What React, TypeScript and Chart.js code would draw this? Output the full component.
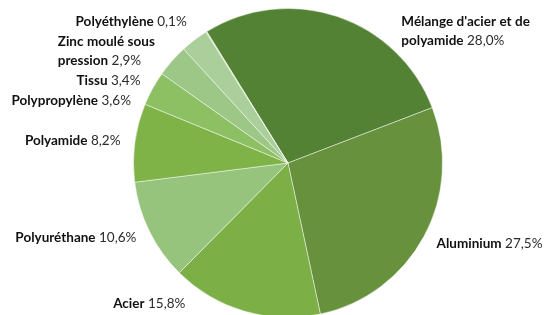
import React, { useEffect, useRef } from "react";
import { Chart, registerables } from "chart.js";

Chart.register(...registerables);

const categories = [
  "Mélange d'acier et de polyamide",
  "Aluminium",
  "Acier",
  "Polyuréthane",
  "Polyamide",
  "Polypropylène",
  "Tissu",
  "Zinc moulé sous pression",
  "Polyéthylène",
];

const shares = [28.0, 27.5, 15.8, 10.6, 8.2, 3.6, 3.4, 2.9, 0.1];

const valueLabels = shares.map((v) => v.toFixed(1).replace(".", ",") + "%");

const sliceColors = [
  "#548235",
  "#67913D",
  "#7DAF47",
  "#96C47D",
  "#7FB347",
  "#8DC062",
  "#9DC787",
  "#ABCF9A",
  "#B5D6A4",
];

const FONT_FAMILY = "Lato, 'Open Sans', sans-serif";

const outerLabels = {
  id: "outerLabels",
  afterDatasetsDraw(chart: any) {
    const o = chart.options.plugins.outerLabels;
    const ctx = chart.ctx as CanvasRenderingContext2D;
    const meta = chart.getDatasetMeta(0);
    const boldFont = `bold ${o.fontSize}px ${o.fontFamily}`;
    const normFont = `${o.fontSize}px ${o.fontFamily}`;
    ctx.save();
    ctx.font = normFont;
    const space = ctx.measureText(" ").width;

    const items = meta.data.map((arc: any, i: number) => {
      const p = arc.getProps(["x", "y", "startAngle", "endAngle"], true);
      const mid = (p.startAngle + p.endAngle) / 2;
      const ax = p.x + Math.cos(mid) * o.distance;
      const ay = p.y + Math.sin(mid) * o.distance;
      const words = categories[i]
        .split(" ")
        .map((t) => ({ t, bold: true }))
        .concat([{ t: valueLabels[i], bold: false }]);
      const lines: any[] = [];
      let cur: any[] = [];
      let curW = 0;
      for (const w of words) {
        ctx.font = w.bold ? boldFont : normFont;
        const ww = ctx.measureText(w.t).width;
        const add = cur.length ? space + ww : ww;
        if (cur.length && curW + add > o.maxWidth) {
          lines.push({ tokens: cur, width: curW });
          cur = [];
          curW = 0;
        }
        curW += cur.length ? space + ww : ww;
        cur.push({ ...w, w: ww });
      }
      if (cur.length) lines.push({ tokens: cur, width: curW });
      const blockW = Math.max(...lines.map((l) => l.width));
      return {
        cx: p.x,
        cy: p.y,
        ax,
        ay,
        x: ax,
        y: ay,
        clamped: false,
        left: Math.cos(mid) < 0,
        lines,
        w: blockW,
        h: lines.length * o.lineHeight,
      };
    });

    const topLim = o.topMargin;
    const botLim = o.visibleHeight - o.bottomMargin;
    for (const side of [true, false]) {
      const arr = items.filter((it: any) => it.left === side).sort((a: any, b: any) => a.ay - b.ay);
      arr.forEach((it: any) => {
        const y = Math.min(Math.max(it.ay, topLim + it.h / 2), botLim - it.h / 2);
        if (Math.abs(y - it.ay) > 0.5) it.clamped = true;
        it.y = y;
      });
      for (let k = 1; k < arr.length; k++) {
        const prev = arr[k - 1];
        const minY = prev.y + prev.h / 2 + o.gap + arr[k].h / 2;
        if (arr[k].y < minY) arr[k].y = minY;
      }
      for (let k = arr.length - 2; k >= 0; k--) {
        const next = arr[k + 1];
        const maxY = next.y - next.h / 2 - o.gap - arr[k].h / 2;
        if (arr[k].y > maxY) arr[k].y = maxY;
      }
      arr.forEach((it: any) => {
        if (Math.abs(it.y - it.ay) > 0.5) {
          const d = it.clamped ? o.clampedDistance : o.distance;
          const dy = it.y - it.cy;
          const dx = Math.sqrt(Math.max(d * d - dy * dy, 0));
          it.x = it.cx + (it.left ? -dx : dx);
        }
      });
    }

    ctx.textBaseline = "middle";
    ctx.textAlign = "left";
    for (const it of items) {
      const startX = it.left ? it.x - it.w : it.x;
      it.lines.forEach((line: any, j: number) => {
        const ly = it.y - it.h / 2 + o.lineHeight * (j + 0.5);
        let x = startX;
        line.tokens.forEach((tk: any, k: number) => {
          if (k > 0) x += space;
          ctx.font = tk.bold ? boldFont : normFont;
          ctx.fillStyle = tk.bold ? o.nameColor : o.valueColor;
          ctx.fillText(tk.t, x, ly);
          x += tk.w;
        });
      });
    }
    ctx.restore();
  },
};

export default function App() {
  const ref = useRef<HTMLCanvasElement | null>(null);
  useEffect(() => {
    document.body.style.margin = "0";
    const canvas = ref.current;
    if (!canvas) return;
    const chart = new Chart(canvas, {
      type: "pie",
      data: {
        labels: categories,
        datasets: [
          {
            data: shares,
            backgroundColor: sliceColors,
            borderColor: "rgba(255,255,255,0.45)",
            borderWidth: 1,
            hoverOffset: 0,
          },
        ],
      },
      options: {
        responsive: false,
        animation: false,
        events: [],
        rotation: -31.7,
        layout: { padding: { top: 8, bottom: 2, left: 133, right: 107 } },
        plugins: {
          legend: { display: false },
          tooltip: { enabled: false },
          outerLabels: {
            fontFamily: FONT_FAMILY,
            fontSize: 13.5,
            lineHeight: 19,
            maxWidth: 136,
            distance: 169,
            clampedDistance: 174,
            gap: 1,
            topMargin: 12,
            bottomMargin: 2,
            visibleHeight: 315,
            nameColor: "#111111",
            valueColor: "#2b2b2b",
          },
        } as any,
      },
      plugins: [outerLabels],
    });
    return () => chart.destroy();
  }, []);
  return (
    <div style={{ width: 550, height: 315, overflow: "hidden", background: "#fff" }}>
      <canvas ref={ref} width={550} height={320} style={{ display: "block" }} />
    </div>
  );
}
